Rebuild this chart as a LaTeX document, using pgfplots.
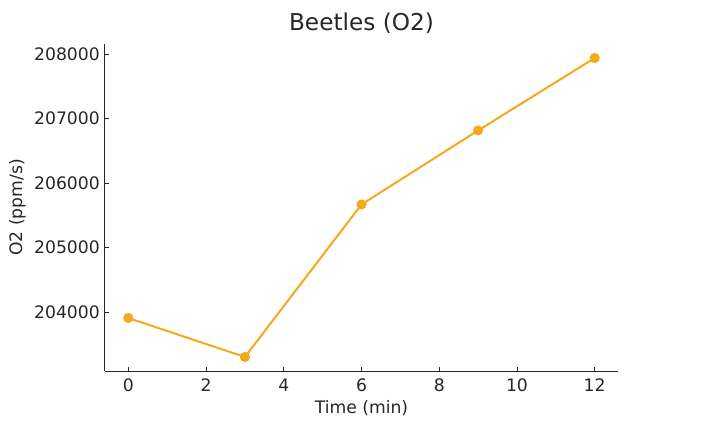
\documentclass[border=0pt]{standalone}
\usepackage{fontspec}
\setmainfont{DejaVu Sans}
\usepackage{pgfplots}
\pgfplotsset{compat=1.18}
\definecolor{lineorange}{RGB}{246,168,28}
\definecolor{txt}{RGB}{38,38,38}
\begin{document}
\begin{tikzpicture}
\begin{axis}[
  scale only axis,
  width=513bp, height=327bp,
  xmin=-0.6, xmax=12.6,
  ymin=203085, ymax=208155,
  axis x line*=bottom, axis y line*=left,
  axis line style={black!85, line width=1bp},
  tick align=inside,
  major tick length=4bp,
  tick style={black!85, line width=0.8bp},
  xtick={0,2,4,6,8,10,12},
  xticklabels={0,2,4,6,8,10,12},
  ytick={204000,205000,206000,207000,208000},
  yticklabels={204000,205000,206000,207000,208000},
  scaled y ticks=false,
  scaled x ticks=false,
  tick label style={font=\fontsize{17.2bp}{20bp}\selectfont, text=txt},
  xticklabel style={anchor=base, inner sep=0pt, yshift=-20bp},
  yticklabel style={anchor=east, inner sep=0pt, xshift=-5bp},
  label style={font=\fontsize{17.2bp}{20bp}\selectfont, text=txt},
  xlabel={Time (min)},
  ylabel={O2 (ppm/s)},
  xlabel style={at={(axis description cs:0.5,0)}, anchor=base, inner sep=0pt, yshift=-42bp},
  ylabel style={at={(axis description cs:-0.1706,0.5)}, anchor=center, inner sep=0pt},
  title={Beetles (O2)},
  title style={at={(axis description cs:0.5,1)}, anchor=base, inner sep=0pt, yshift=8bp, font=\fontsize{23.2bp}{27bp}\selectfont, text=txt},
  clip=false,
]
\addplot[color=lineorange, line width=2bp, mark=*, mark size=4bp, mark options={solid, fill=lineorange, draw=lineorange}]
  coordinates {(0,203907) (3,203302) (6,205667) (9,206814) (12,207938)};
\end{axis}
\pgfresetboundingbox
\useasboundingbox ([xshift=-105bp,yshift=-57bp]current axis.south west) rectangle ++(707bp,428bp);
\end{tikzpicture}
\end{document}
